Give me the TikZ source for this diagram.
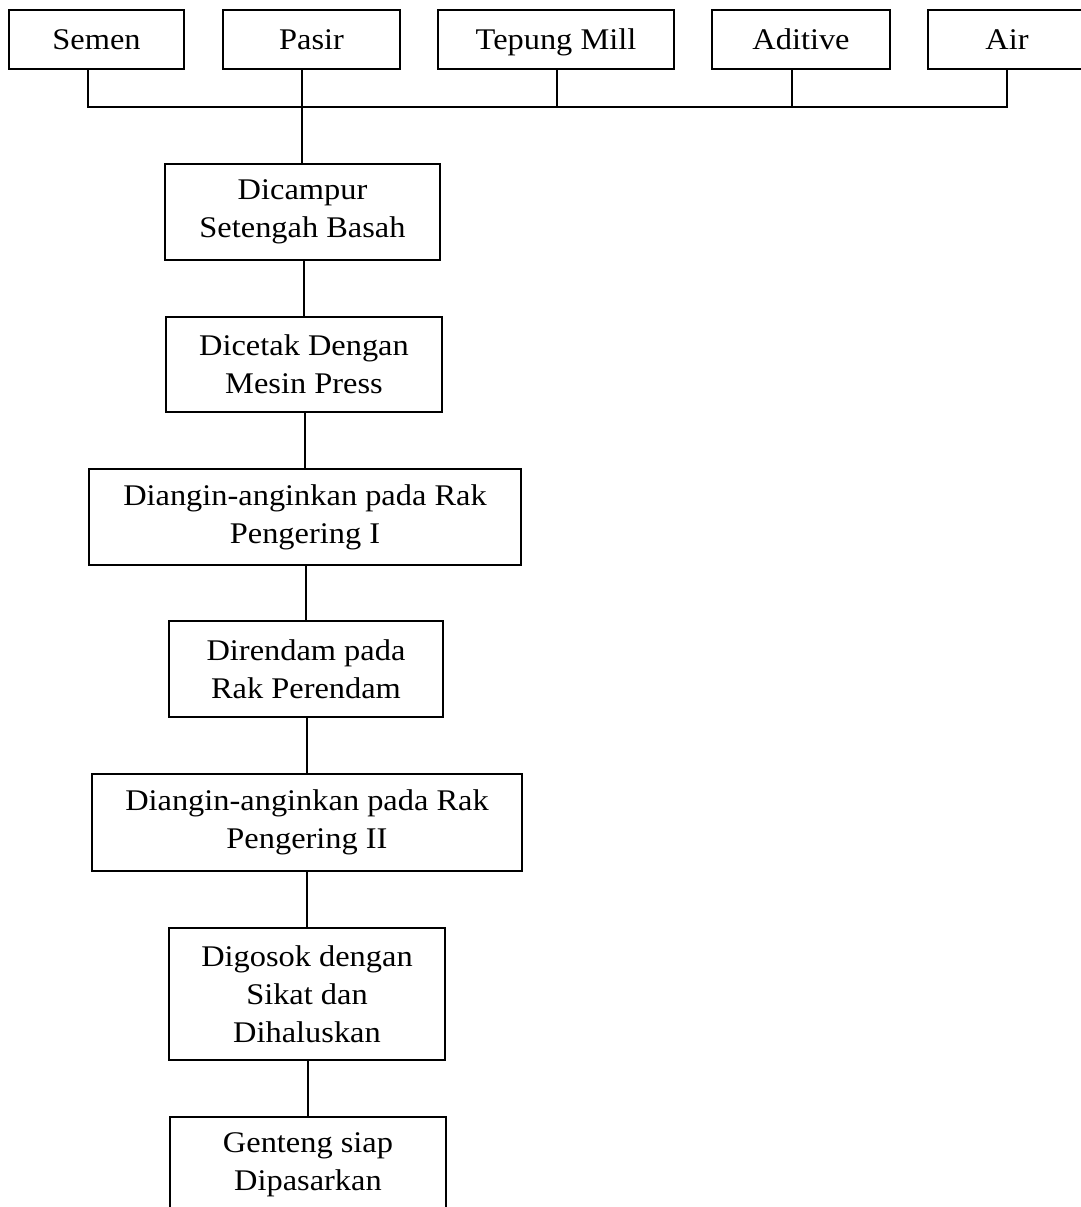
\documentclass[tikz,border=0pt]{standalone}
\usepackage{fontspec}
\setmainfont[FakeStretch=1.08]{Liberation Serif}
\begin{document}
\begin{tikzpicture}[x=1pt,y=-1pt,
  box/.style={draw,line width=1.4pt,inner sep=0pt,align=center,
    font=\fontsize{30}{38}\selectfont},
  topbox/.style={box,minimum height=59pt,text height=28pt,text depth=7pt},
  conn/.style={line width=1.4pt}]
\useasboundingbox (0,0) rectangle (1080,1207);
% top row
\node[topbox,minimum width=175pt] (semen) at (96.5,39.5) {Semen};
\node[topbox,minimum width=177pt] (pasir) at (311.5,39.5) {Pasir};
\node[topbox,minimum width=236pt] (tepung) at (556,39.5) {Tepung Mill};
\node[topbox,minimum width=178pt] (aditive) at (801,39.5) {Aditive};
\node[topbox,minimum width=158pt] (air) at (1007,39.5) {Air};
% process boxes
\node[box,minimum width=275pt,minimum height=96pt] (campur) at (302.5,212) {Dicampur\\Setengah Basah};
\node[box,minimum width=276pt,minimum height=95pt] (cetak) at (304,364.5) {Dicetak Dengan\\Mesin Press};
\node[box,minimum width=432pt,minimum height=96pt] (angin1) at (305,517) {Diangin-anginkan pada Rak\\Pengering I};
\node[box,minimum width=274pt,minimum height=96pt] (rendam) at (306,669) {Direndam pada\\Rak Perendam};
\node[box,minimum width=430pt,minimum height=97pt] (angin2) at (307,822.5) {Diangin-anginkan pada Rak\\Pengering II};
\node[box,minimum width=276pt,minimum height=132pt] (gosok) at (307,994) {Digosok dengan\\Sikat dan\\Dihaluskan};
\node[box,minimum width=276pt,minimum height=96pt] (genteng) at (308,1165) {Genteng siap\\Dipasarkan};
% bus
\coordinate (bS) at (88,107);
\coordinate (bP) at (302,107);
\coordinate (bT) at (557,107);
\coordinate (bA) at (792,107);
\coordinate (bR) at (1007,107);
\draw[conn] (semen.south -| bS) -- (bS) -- (bR) -- (air.south -| bR);
\draw[conn] (pasir.south -| bP) -- (bP) -- (campur.north -| bP);
\draw[conn] (tepung.south -| bT) -- (bT);
\draw[conn] (aditive.south -| bA) -- (bA);
% chain
\draw[conn] (campur.south -| cetak.north) -- (cetak.north);
\draw[conn] (cetak.south -| angin1.north) -- (angin1.north);
\draw[conn] (angin1.south -| rendam.north) -- (rendam.north);
\draw[conn] (rendam.south -| angin2.north) -- (angin2.north);
\draw[conn] (angin2.south -| gosok.north) -- (gosok.north);
\draw[conn] (gosok.south -| genteng.north) -- (genteng.north);
\end{tikzpicture}
\end{document}
